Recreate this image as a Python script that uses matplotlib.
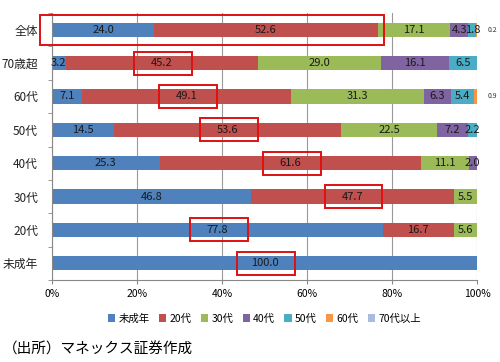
import matplotlib.pyplot as plt
from matplotlib.patches import Rectangle
import numpy as np

plt.rcParams['font.family'] = ['Noto Sans CJK JP', 'DejaVu Sans']

groups = ["全体", "70歳超", "60代", "50代", "40代", "30代", "20代", "未成年"]
series = ["未成年", "20代", "30代", "40代", "50代", "60代", "70代以上"]
s_miseinen = [24.0, 3.2, 7.1, 14.5, 25.3, 46.8, 77.8, 100.0]
s_20 = [52.6, 45.2, 49.1, 53.6, 61.6, 47.7, 16.7, 0]
s_30 = [17.1, 29.0, 31.3, 22.5, 11.1, 5.5, 5.6, 0]
s_40 = [4.3, 16.1, 6.3, 7.2, 2.0, 0, 0, 0]
s_50 = [1.8, 6.5, 5.4, 2.2, 0, 0, 0, 0]
s_60 = [0.2, 0, 0.9, 0, 0, 0, 0, 0]
s_70 = [0, 0, 0, 0, 0, 0, 0, 0]
colors = ["#4F81BD", "#C0504D", "#9BBB59", "#8064A2", "#4BACC6", "#F79646", "#A9BCE0"]

data = np.array([s_miseinen, s_20, s_30, s_40, s_50, s_60, s_70])
ypos = np.arange(len(groups))[::-1]

fig = plt.figure(figsize=(5, 3.62), dpi=100)
ax = fig.add_axes([0.104, 0.2265, 0.85, 0.7375])

left = np.zeros(len(groups))
for i, name in enumerate(series):
    ax.barh(ypos, data[i], left=left, height=0.43, color=colors[i], label=name, zorder=2)
    for j in range(len(groups)):
        v = data[i][j]
        if v >= 1.5:
            ax.text(left[j] + v / 2, ypos[j], f"{v:.1f}", ha='center', va='center',
                    fontsize=8, color='#1a1a1a', zorder=3)
        elif v > 0:
            ax.text(102.5, ypos[j], f"{v:.1f}", ha='left', va='center',
                    fontsize=5, color='#333333', zorder=3, clip_on=False)
    left = left + data[i]

# red highlight boxes around the largest segment
for j in range(len(groups)):
    k = int(np.argmax(data[:, j]))
    start = data[:k, j].sum()
    c = start + data[k, j] / 2
    if j == 0:
        x0, x1 = -2.8, data[:2, j].sum() + 1.5
        h = 0.9
    else:
        x0, x1 = c - 6.5, c + 7.1
        h = 0.69
    ax.add_patch(Rectangle((x0, ypos[j] - h / 2), x1 - x0, h, fill=False,
                           edgecolor='#E01010', linewidth=1.4, zorder=4, clip_on=False))

ax.set_xlim(0, 100)
ax.set_ylim(-0.5, len(groups) - 0.5)
ax.set_xticks(np.arange(0, 101, 20))
ax.set_xticklabels([f"{t}%" for t in range(0, 101, 20)], fontsize=7.5)
ax.set_yticks(ypos)
ax.set_yticklabels(groups, fontsize=8.5, color='#222222')
ax.set_yticks(np.arange(-0.5, len(groups), 1), minor=True)
ax.tick_params(axis='y', which='major', length=0, pad=10)
ax.tick_params(axis='y', which='minor', length=3, color='#888888')
ax.tick_params(axis='x', length=3, color='#888888')
ax.grid(axis='x', color='#999999', linewidth=0.8, zorder=0)
for s in ['top', 'right']:
    ax.spines[s].set_visible(False)
ax.spines['left'].set_color('#888888')
ax.spines['bottom'].set_color('#888888')

ax.legend(loc='upper center', bbox_to_anchor=(0.5, -0.09), ncol=7, frameon=False,
          fontsize=7.5, handlelength=0.7, handleheight=0.7, handletextpad=0.3,
          columnspacing=0.9)

fig.text(0.005, 0.035, "（出所）マネックス証券作成", fontsize=10.5, ha='left', va='center')

fig.savefig("out.png", dpi=100)
